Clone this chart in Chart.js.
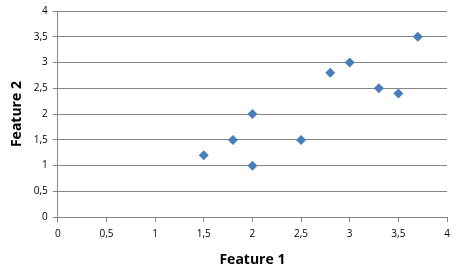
<!DOCTYPE html>
<html>
<head>
<meta charset="utf-8">
<script src="https://cdn.jsdelivr.net/npm/chart.js@4/dist/chart.umd.min.js"></script>
<style>
  html, body { margin: 0; padding: 0; background: #fff; }
  #chart { display: block; }
</style>
</head>
<body>
<canvas id="chart" width="459" height="276"></canvas>
<script>
// Werte
const feature1 = [1.5, 1.8, 2, 2, 2.5, 2.8, 3, 3.3, 3.5, 3.7];
const feature2 = [1.2, 1.5, 2, 1, 1.5, 2.8, 3, 2.5, 2.4, 3.5];
const axisMin = 0;
const axisMax = 4;
const axisStep = 0.5;

const gridColor = '#868686';
const markerColor = '#4A7EBB';
const fontFamily = "'Open Sans', 'Liberation Sans', sans-serif";

const points = feature1.map((x, i) => ({ x: x, y: feature2[i] }));
const commaLabel = (v) => String(v).replace('.', ',');

new Chart(document.getElementById('chart'), {
    type: 'scatter',
    data: {
        datasets: [{
            data: points,
            pointStyle: 'rectRot',
            radius: 5,
            hoverRadius: 5,
            backgroundColor: markerColor,
            borderColor: markerColor,
            borderWidth: 0
        }]
    },
    options: {
        responsive: false,
        animation: false,
        layout: { padding: { top: 8, right: 12, bottom: 8, left: 9 } },
        plugins: {
            legend: { display: false },
            tooltip: { enabled: false }
        },
        scales: {
            x: {
                type: 'linear',
                min: axisMin,
                max: axisMax,
                ticks: {
                    stepSize: axisStep,
                    color: '#000',
                    font: { family: fontFamily, size: 10 },
                    padding: 6,
                    maxRotation: 0,
                    callback: commaLabel
                },
                grid: {
                    drawOnChartArea: false,
                    drawTicks: true,
                    tickLength: 5,
                    color: gridColor
                },
                border: { display: true, color: gridColor, width: 1 },
                title: {
                    display: true,
                    text: 'Feature 1',
                    color: '#000',
                    font: { family: fontFamily, size: 14, weight: 'bold' },
                    padding: { top: 5, bottom: 0 }
                }
            },
            y: {
                type: 'linear',
                min: axisMin,
                max: axisMax,
                ticks: {
                    stepSize: axisStep,
                    color: '#000',
                    font: { family: fontFamily, size: 10 },
                    padding: 5,
                    callback: commaLabel
                },
                grid: {
                    drawTicks: true,
                    tickLength: 5,
                    color: gridColor
                },
                border: { display: true, color: gridColor, width: 1 },
                title: {
                    display: true,
                    text: 'Feature 2',
                    color: '#000',
                    font: { family: fontFamily, size: 14, weight: 'bold' },
                    padding: { top: 0, bottom: 3 }
                }
            }
        }
    }
});
</script>
</body>
</html>
